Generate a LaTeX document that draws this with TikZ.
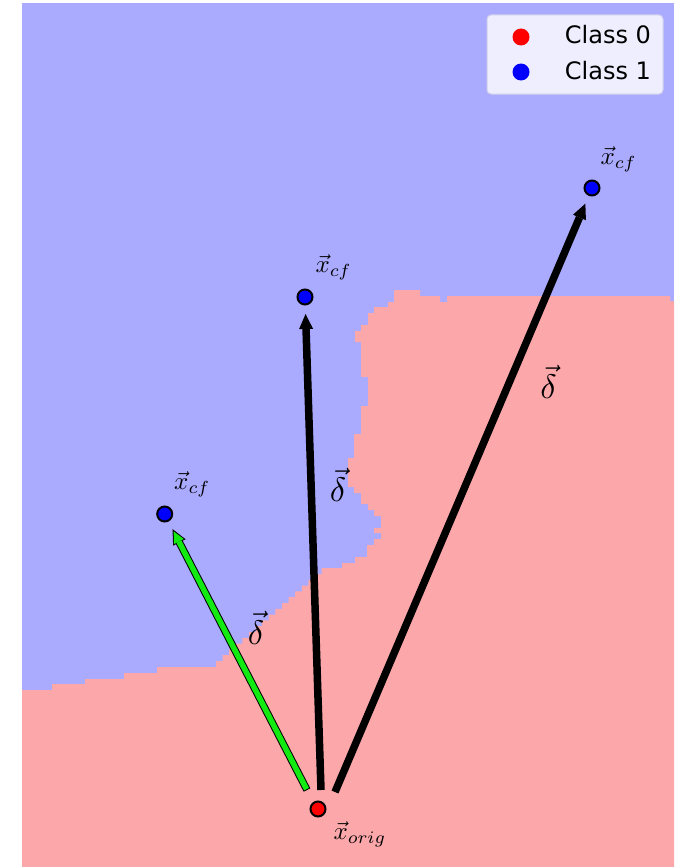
\documentclass[tikz,border=0pt]{standalone}
\usepackage{fontspec}
\usepackage{tikz}
\usetikzlibrary{positioning,arrows.meta}
\newfontfamily\legendfont{DejaVu Sans}
\definecolor{regblue}{HTML}{AAAAFF}
\definecolor{regpink}{HTML}{FCA8AA}
\definecolor{cfgreen}{HTML}{12EA12}
\definecolor{legface}{HTML}{EEEEFF}
\definecolor{legedge}{HTML}{D0D0EC}

\begin{document}
\begin{tikzpicture}[x=1pt, y=-1pt,
  sample/.style={circle, draw=black, line width=2pt, inner sep=0pt, minimum size=15pt},
  legdot/.style={circle, inner sep=0pt, minimum size=17pt},
  legtext/.style={anchor=base west, inner sep=0pt, font=\legendfont\fontsize{24}{28}\selectfont},
  ptlabel/.style={inner sep=0pt, scale=2.5},
  dlabel/.style={inner sep=0pt, scale=3.4},
  cfarrow/.style={line width=7.5pt, shorten >=8.5pt,
    -{Triangle[length=15pt, width=14pt, line width=0pt]}},
  cfarrowfill/.style={cfgreen, line width=5.5pt, shorten <=1pt, shorten >=11pt,
    -{Triangle[length=11.5pt, width=11pt, line width=0pt]}}]
  \useasboundingbox (0,0) rectangle (684,867);

  % Decision regions
  \fill[regblue] (22,3) rectangle (674,867);
  \fill[regpink] (22,867) -- (22,690) -- (52,690) -- (52,684) -- (85,684)
    -- (85,679) -- (124,679) -- (124,673) -- (157,673) -- (157,667)
    -- (216,667) -- (216,661)
    \foreach \k in {1,...,16} { -- ++(6.6,0) -- ++(0,-5.8) }
    -- (342,568) -- (342,563) -- (355,563) -- (355,557) -- (367,557)
    -- (367,545) -- (374,545) -- (374,539) -- (381,539) -- (381,533)
    -- (374,533) -- (374,528) -- (381,528) -- (381,516) -- (374,516)
    -- (374,510) -- (368,510) -- (368,504) -- (361,504) -- (361,493)
    -- (354,493) -- (354,487) -- (348,487) -- (348,458) -- (354,458)
    -- (354,434) -- (361,434) -- (361,406) -- (368,406) -- (368,377)
    -- (361,377) -- (361,342) -- (355,342) -- (355,331) -- (361,331)
    -- (361,325) -- (368,325) -- (368,313) -- (374,313) -- (374,307)
    -- (388,307) -- (388,302) -- (394,302) -- (394,290) -- (420,290)
    -- (420,296) -- (440,296) -- (440,302) -- (447,302) -- (447,296)
    -- (670,296) -- (670,301) -- (674,301) -- (674,867) -- cycle;

  % Samples
  \node[sample, fill=red] (xorig) at (318,809) {};
  \node[sample, fill=blue] (cf1) at (164.7,514) {};
  \node[sample, fill=blue] (cf2) at (305,297) {};
  \node[sample, fill=blue] (cf3) at (592,188) {};

  % Perturbations
  \coordinate (t1) at ([shift={(-11,-19)}]xorig.center);
  \coordinate (t2) at ([shift={(3,-19)}]xorig.center);
  \coordinate (t3) at ([shift={(17,-17)}]xorig.center);
  \draw[cfarrow] (t1) -- (cf1);
  \draw[cfarrowfill] (t1) -- (cf1);
  \draw[cfarrow] (t2) -- (cf2);
  \draw[cfarrow] (t3) -- (cf3);

  % Labels
  \node[ptlabel, below right=6pt and 9pt of xorig] (lorig) {$\vec{x}_{orig}$};
  \node[ptlabel, above right=10.5pt and 3pt of cf1] (lcf1) {$\vec{x}_{cf}$};
  \node[ptlabel, above right=10.5pt and 4pt of cf2] (lcf2) {$\vec{x}_{cf}$};
  \node[ptlabel, above right=10pt and 2pt of cf3] (lcf3) {$\vec{x}_{cf}$};
  \node[dlabel] (d1) at (256,627.5) {$\vec{\delta}$};
  \node[dlabel] (d2) at (338,485) {$\vec{\delta}$};
  \node[dlabel] (d3) at (548.5,381.5) {$\vec{\delta}$};

  % Legend
  \draw[legedge, fill=legface, rounded corners=4pt, line width=1pt] (487,15) rectangle (663,94);
  \node[legdot, fill=red] (mk0) at (521,37) {};
  \node[legdot, fill=blue] (mk1) at (521,72) {};
  \node[legtext] (c0) at (564.7,44) {Class 0};
  \node[legtext] (c1) at (564.7,80) {Class 1};
\end{tikzpicture}
\end{document}
